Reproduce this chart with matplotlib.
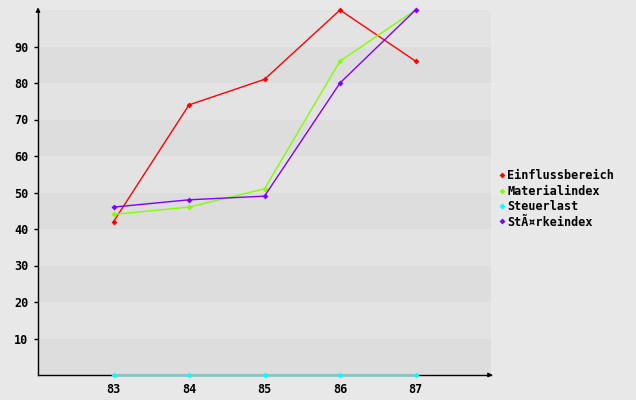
import matplotlib
matplotlib.use('Agg')
import matplotlib.pyplot as plt
from matplotlib.lines import Line2D

# 차트 데이터
years = [83, 84, 85, 86, 87]
einfluss = [42, 74, 81, 100, 86]
material = [44, 46, 51, 86, 100]
steuer = [0, 0, 0, 0, 0]
staerke = [46, 48, 49, 80, 100]

series_names = ['Einflussbereich', 'Materialindex', 'Steuerlast', 'StÃ¤rkeindex']
series_values = [einfluss, material, steuer, staerke]
series_colors = ['#ff0000', '#80ff00', '#00ffff', '#8000ff']

y_ticks = [10, 20, 30, 40, 50, 60, 70, 80, 90]

plt.rcParams['font.family'] = 'DejaVu Sans Mono'
plt.rcParams['font.weight'] = 'bold'
plt.rcParams['font.size'] = 8.5

fig = plt.figure(figsize=(6.36, 4.0), dpi=100, facecolor='#e8e8e8')
ax = fig.add_axes([38 / 636, 25 / 400, 453 / 636, 365 / 400])
ax.set_facecolor('#e8e8e8')
ax.set_xlim(82, 88)
ax.set_ylim(0, 100)

# 가로 띠 배경
for lo in range(0, 100, 10):
    c = '#dddddd' if (lo // 10) % 2 == 0 else '#e3e3e3'
    ax.axhspan(lo, lo + 10, color=c, lw=0, zorder=0)

for name, vals, col in zip(series_names, series_values, series_colors):
    ax.plot(years, vals, color=col, lw=1, marker='D', ms=3, mew=0,
            label=name, zorder=3, clip_on=False)

for s in ['top', 'right']:
    ax.spines[s].set_visible(False)
for s in ['left', 'bottom']:
    ax.spines[s].set_color('black')
    ax.spines[s].set_linewidth(1)
    ax.spines[s].set_zorder(2)

# 축 화살표
ax.annotate('', xy=(0, 1.015), xytext=(0, 0.99), xycoords='axes fraction',
            arrowprops=dict(arrowstyle='-|>', color='black', lw=1,
                            mutation_scale=6), annotation_clip=False)
ax.annotate('', xy=(1.01, 0), xytext=(0.99, 0), xycoords='axes fraction',
            arrowprops=dict(arrowstyle='-|>', color='black', lw=1,
                            mutation_scale=6), annotation_clip=False)

ax.set_xticks(years)
ax.set_xticklabels([str(y) for y in years])
ax.set_yticks(y_ticks)
ax.tick_params(axis='x', length=0, pad=6)
ax.tick_params(axis='y', length=3, width=1, pad=4)

handles = [Line2D([], [], color=c, marker='D', ms=3, lw=0, mew=0)
           for c in series_colors]
fig.legend(handles, series_names, loc='center left',
           bbox_to_anchor=(485 / 636, 1 - 199 / 400), frameon=False,
           handletextpad=0.0, labelspacing=0.2, handlelength=1)

fig.savefig('out.png', dpi=100, facecolor=fig.get_facecolor())
